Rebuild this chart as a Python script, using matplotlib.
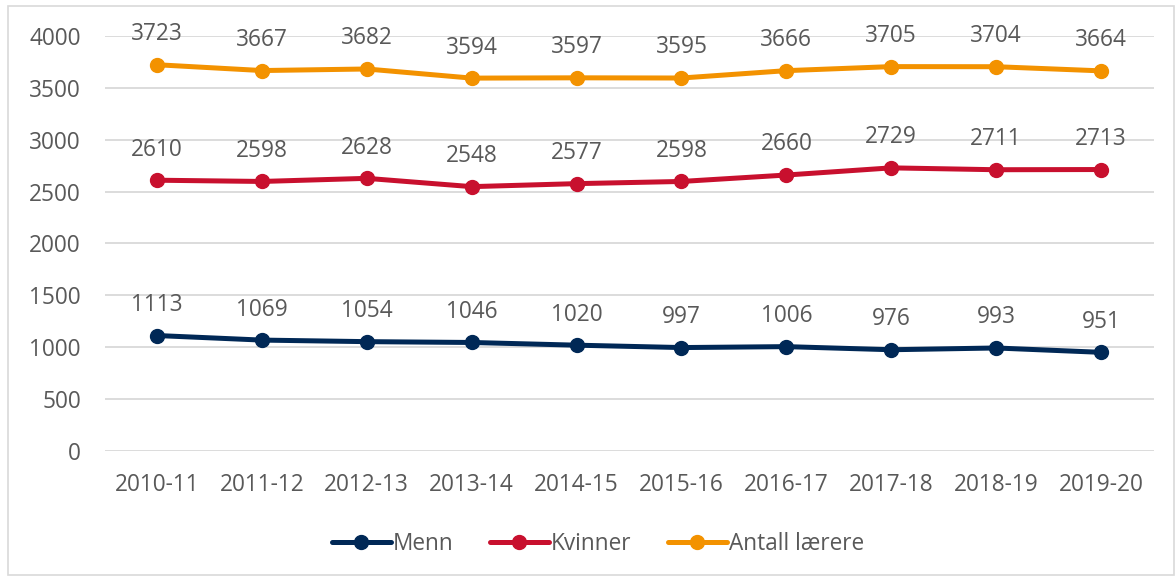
import matplotlib
matplotlib.use("Agg")
import matplotlib.pyplot as plt
from matplotlib.patches import Rectangle

plt.rcParams['font.family'] = ['Open Sans', 'DejaVu Sans']

categories = ["2010-11", "2011-12", "2012-13", "2013-14", "2014-15",
              "2015-16", "2016-17", "2017-18", "2018-19", "2019-20"]
menn = [1113, 1069, 1054, 1046, 1020, 997, 1006, 976, 993, 951]
kvinner = [2610, 2598, 2628, 2548, 2577, 2598, 2660, 2729, 2711, 2713]
antall = [3723, 3667, 3682, 3594, 3597, 3595, 3666, 3705, 3704, 3664]
series_names = ["Menn", "Kvinner", "Antall lærere"]
colors = ["#002856", "#C8102E", "#F39200"]
yticks = [0, 500, 1000, 1500, 2000, 2500, 3000, 3500, 4000]

W, H = 1175, 576
fig = plt.figure(figsize=(W/100, H/100), dpi=100)
ax = fig.add_axes([104.5/W, 1-451/H, (1153.5-104.5)/W, (451-36)/H])

text_color = "#595959"
fs = 16.3
x = list(range(len(categories)))
for vals, name, c in zip([menn, kvinner, antall], series_names, colors):
    ax.plot(x, vals, color=c, lw=3.6, marker='o', markersize=10,
            label=name, solid_capstyle='round', clip_on=False, zorder=3)
    for xi, v in zip(x, vals):
        ax.annotate(str(v), (xi, v), xytext=(0, 22), textcoords='offset points',
                    ha='center', va='center', fontsize=fs, color=text_color,
                    annotation_clip=False)

ax.set_xlim(-0.5, len(categories)-0.5)
ax.set_ylim(0, 4000)
ax.set_yticks(yticks)
ax.set_xticks(x)
ax.set_xticklabels(categories)
ax.tick_params(axis='both', length=0, labelsize=fs, labelcolor=text_color)
ax.tick_params(axis='y', pad=17)
ax.tick_params(axis='x', pad=16)
ax.grid(axis='y', color='#D9D9D9', lw=1.3)
ax.set_axisbelow(True)
for s in ax.spines.values():
    s.set_visible(False)

leg = fig.legend(loc='center', bbox_to_anchor=(598/W, 1-544/H), ncol=3,
                 frameon=False, fontsize=fs, handlelength=2.6,
                 handletextpad=0.1, columnspacing=1.6, labelcolor=text_color)

fig.patches.append(Rectangle((8/W, 1-575/H), (1174-8)/W, (575-6)/H,
                             transform=fig.transFigure, fill=False,
                             edgecolor='#D9D9D9', lw=1.2))

fig.savefig("out.png", dpi=100)
